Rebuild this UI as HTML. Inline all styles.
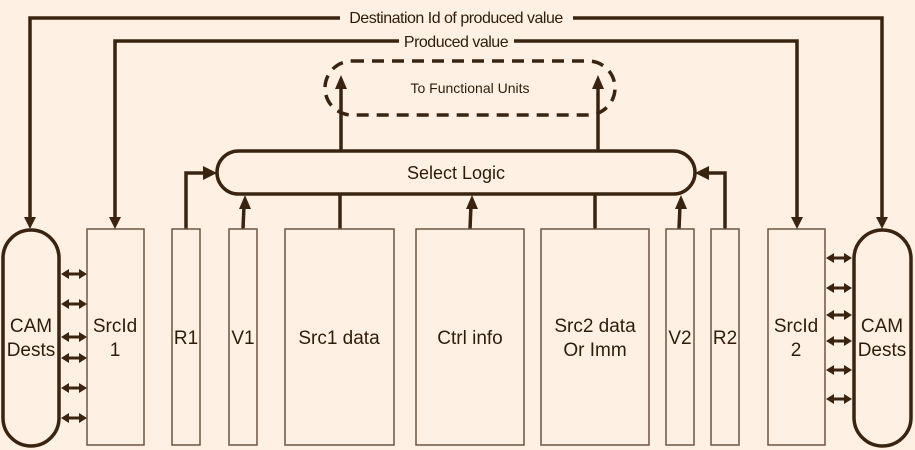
<!DOCTYPE html>
<html><head><meta charset="utf-8"><style>
html,body{margin:0;padding:0;background:#fef1e4;}
svg{display:block;font-family:"Liberation Sans",Arial,sans-serif;}
</style></head><body>
<svg width="915" height="450" viewBox="0 0 915 450" xmlns="http://www.w3.org/2000/svg">
<rect width="915" height="450" fill="#fef1e4"/>
<g stroke="#3a2410" fill="none">
<path d="M340,18H30V220" stroke-width="3.5"/>
<path d="M573,18H882V220" stroke-width="3.5"/>
<path d="M399,41H115V220" stroke-width="3.5"/>
<path d="M514,41H797V220" stroke-width="3.5"/>
<rect x="325" y="61" width="290" height="54" rx="27" stroke-width="3.5" stroke-dasharray="12,8"/>
<rect x="217" y="151" width="478" height="43" rx="21.5" fill="#fef1e4" stroke-width="3.5"/>
<path d="M341,151V86" stroke-width="3.5"/>
<path d="M598,151V86" stroke-width="3.5"/>
<path d="M186,229V173H206" stroke-width="3.5"/>
<path d="M725,229V173H706" stroke-width="3.5"/>
<path d="M243,229L244,205" stroke-width="3.5"/>
<path d="M470,229L471,205" stroke-width="3.5"/>
<path d="M679,229L680,205" stroke-width="3.5"/>
<path d="M340,229V194M595,229V194" stroke-width="3.5"/>
<g stroke="#6b5540" stroke-width="1.5" fill="#fef1e4">
<rect x="87" y="229" width="57" height="216"/>
<rect x="172" y="229" width="28" height="216"/>
<rect x="229" y="229" width="28" height="216"/>
<rect x="285" y="229" width="109" height="216"/>
<rect x="416" y="229" width="108" height="216"/>
<rect x="541" y="229" width="108" height="216"/>
<rect x="666" y="229" width="28" height="216"/>
<rect x="711" y="229" width="28" height="216"/>
<rect x="768" y="229" width="57" height="216"/>
</g>
<rect x="3" y="230" width="56" height="216" rx="28" stroke-width="3.5"/>
<rect x="854" y="230" width="57" height="216" rx="28.5" stroke-width="3.5"/>
<g stroke-width="3">
<path d="M66,274H82M66,304H82M66,337H82M66,358H82M66,388H82M66,418H82"/>
<path d="M831,258H848M831,288H848M831,315H848M831,341H848M831,370H848M831,399H848"/>
</g>
</g>
<g fill="#3a2410">
<polygon points="24,217 36,217 30,229"/>
<polygon points="109,217 121,217 115,229"/>
<polygon points="791,217 803,217 797,229"/>
<polygon points="876,217 888,217 882,229"/>
<polygon points="335,89 347,89 341,75"/>
<polygon points="592,89 604,89 598,75"/>
<polygon points="203,166 203,180 217,173"/>
<polygon points="709,166 709,180 695,173"/>
<polygon points="239,209 251,209 245,195"/>
<polygon points="466,209 478,209 472,195"/>
<polygon points="675,209 687,209 681,195"/>
<polygon points="61,274 69,269 69,279"/><polygon points="87,274 79,269 79,279"/>
<polygon points="61,304 69,299 69,309"/><polygon points="87,304 79,299 79,309"/>
<polygon points="61,337 69,332 69,342"/><polygon points="87,337 79,332 79,342"/>
<polygon points="61,358 69,353 69,363"/><polygon points="87,358 79,353 79,363"/>
<polygon points="61,388 69,383 69,393"/><polygon points="87,388 79,383 79,393"/>
<polygon points="61,418 69,413 69,423"/><polygon points="87,418 79,413 79,423"/>
<polygon points="826,258 834,253 834,263"/><polygon points="852,258 844,253 844,263"/>
<polygon points="826,288 834,283 834,293"/><polygon points="852,288 844,283 844,293"/>
<polygon points="826,315 834,310 834,320"/><polygon points="852,315 844,310 844,320"/>
<polygon points="826,341 834,336 834,346"/><polygon points="852,341 844,336 844,346"/>
<polygon points="826,370 834,365 834,375"/><polygon points="852,370 844,365 844,375"/>
<polygon points="826,399 834,394 834,404"/><polygon points="852,399 844,394 844,404"/>
</g>
<g fill="#2e1c08" font-size="19" text-anchor="middle">
<text x="456" y="23" font-size="16" letter-spacing="-0.5">Destination Id of produced value</text>
<text x="456" y="47" font-size="16" letter-spacing="-0.5">Produced value</text>
<text x="470" y="93" font-size="14">To Functional Units</text>
<text x="456" y="179" font-size="18">Select Logic</text>
<text x="31" y="332">CAM</text><text x="31" y="356">Dests</text>
<text x="115" y="332">SrcId</text><text x="115" y="356">1</text>
<text x="186" y="344">R1</text>
<text x="243" y="344">V1</text>
<text x="339" y="344">Src1 data</text>
<text x="470" y="344">Ctrl info</text>
<text x="595" y="332">Src2 data</text><text x="595" y="356">Or Imm</text>
<text x="680" y="344">V2</text>
<text x="725" y="344">R2</text>
<text x="796" y="332">SrcId</text><text x="796" y="356">2</text>
<text x="882" y="332">CAM</text><text x="882" y="356">Dests</text>
</g>
</svg>
</body></html>
